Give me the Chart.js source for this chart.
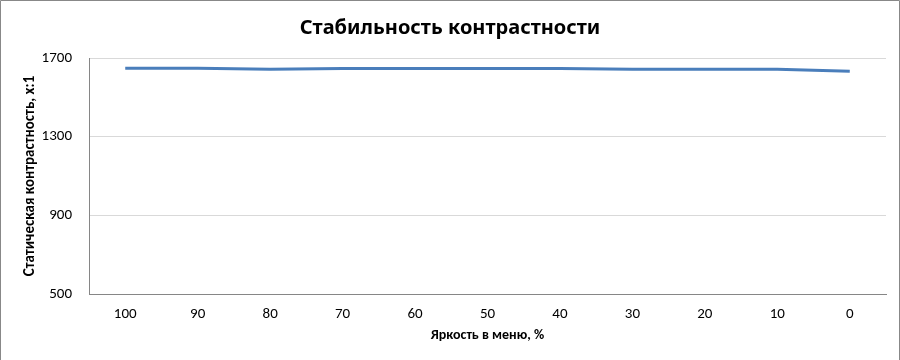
<!DOCTYPE html>
<html>
<head>
<meta charset="utf-8">
<script src="https://cdn.jsdelivr.net/npm/chart.js@4"></script>
<style>
  body { margin: 0; background: #fff; }
</style>
</head>
<body>
<canvas id="chart" width="900" height="360"></canvas>
<script>
// brightness in menu, %
const brightness = ["100", "90", "80", "70", "60", "50", "40", "30", "20", "10", "0"];
// static contrast, x:1
const contrast = [1648, 1648, 1643, 1647, 1647, 1647, 1647, 1643, 1643, 1643, 1632];

const yMin = 500;
const yMax = 1700;
const yStep = 400;

const FONT = "Carlito, 'Liberation Sans Narrow', 'Noto Sans', sans-serif";

// thin grey frame on top, left and right of the chart
const frame = {
  id: "frame",
  afterDraw(chart) {
    const ctx = chart.ctx;
    const w = chart.width;
    const h = chart.height;
    ctx.save();
    ctx.strokeStyle = "#888";
    ctx.lineWidth = 1;
    ctx.beginPath();
    ctx.moveTo(0.5, h);
    ctx.lineTo(0.5, 0.5);
    ctx.lineTo(w - 0.5, 0.5);
    ctx.lineTo(w - 0.5, h);
    ctx.stroke();
    ctx.restore();
  },
};

const ctx = document.getElementById("chart").getContext("2d");
new Chart(ctx, {
  type: "line",
  data: {
    labels: brightness,
    datasets: [
      {
        label: "Контрастность",
        data: contrast,
        borderColor: "#4a7ebb",
        borderWidth: 3,
        pointRadius: 0,
        tension: 0,
      },
    ],
  },
  options: {
    responsive: false,
    animation: false,
    layout: { padding: { left: 14, right: 14, top: 3, bottom: 0 } },
    plugins: {
      legend: { display: false },
      tooltip: { enabled: false },
      title: {
        display: true,
        text: "Стабильность контрастности",
        color: "#000",
        font: { family: "'Noto Sans', sans-serif", size: 20, weight: "bold" },
        padding: { top: 13, bottom: 18 },
      },
    },
    scales: {
      x: {
        offset: true,
        grid: { display: false, drawTicks: false },
        border: { display: true, color: "#868686" },
        ticks: { color: "#000", font: { family: FONT, size: 15 }, padding: 11, maxRotation: 0, autoSkip: false },
        title: {
          display: true,
          text: "Яркость в меню, %",
          color: "#000",
          font: { family: FONT, size: 14, weight: "bold" },
          padding: { top: 0, bottom: 16 },
        },
        afterFit(s) { s.height = 66; },
      },
      y: {
        min: yMin,
        max: yMax,
        ticks: {
          stepSize: yStep,
          color: "#000",
          font: { family: FONT, size: 15 },
          padding: 17,
          callback: (v) => String(v),
        },
        grid: { color: "#d9d9d9", drawTicks: false },
        border: { display: true, color: "#868686" },
        title: {
          display: true,
          text: "Статическая контрастность, х:1",
          color: "#000",
          font: { family: FONT, size: 15, weight: "bold" },
          padding: { top: 7, bottom: 0 },
        },
        afterFit(s) { s.width = 75; },
      },
    },
  },
  plugins: [frame],
});
</script>
</body>
</html>
